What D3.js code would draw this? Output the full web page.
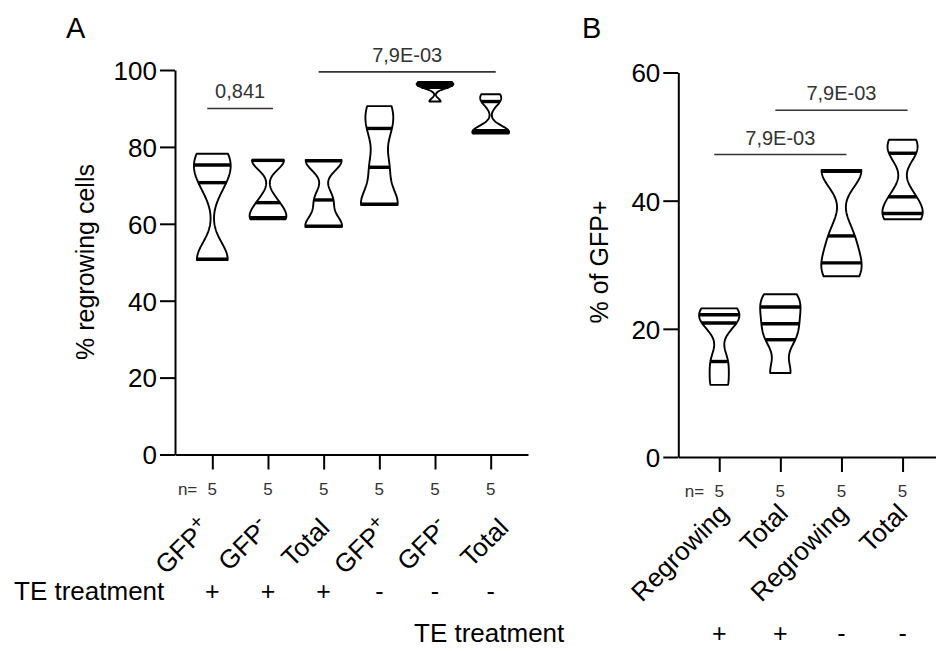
<!DOCTYPE html>
<html><head><meta charset="utf-8">
<script src="https://cdn.jsdelivr.net/npm/d3@7"></script>
<style>
body{margin:0;background:#fff}
svg{display:block}
text{font-family:"Liberation Sans",Arial,sans-serif}
</style>
</head><body>
<svg id="c" width="936" height="651"></svg>
<script>
// ---------- DATA ----------
// Panel A: % regrowing cells
const catsA = ["GFP+", "GFP-", "Total", "GFP+", "GFP-", "Total"];
const teA = ["+", "+", "+", "-", "-", "-"];
const nA = [5, 5, 5, 5, 5, 5];
const aGfpPosTE  = [50.6, 50.8, 70.7, 75.3, 78.2];
const aGfpNegTE  = [61.2, 61.6, 65.5, 76.5, 76.6];
const aTotalTE   = [59.2, 59.4, 66.2, 76.4, 76.6];
const aGfpPosCtl = [64.9, 65.1, 74.7, 84.8, 90.6];
const aGfpNegCtl = [91.8, 95.5, 96.1, 96.6, 96.9];
const aTotalCtl  = [83.5, 83.8, 84.2, 91.8, 93.7];
const yTicksA = [0, 20, 40, 60, 80, 100];
const sigLabelsA = ["0,841", "7,9E-03"];
const sigPairsA = [[0, 1], [2, 5]];
const sigLevelsA = [90, 99.5];

// Panel B: % of GFP+
const catsB = ["Regrowing", "Total", "Regrowing", "Total"];
const teB = ["+", "+", "-", "-"];
const nB = [5, 5, 5, 5];
const bRegrowTE  = [11.25, 14.9, 20.9, 22.2, 23.2];
const bTotalTE   = [13.1, 18.3, 20.8, 23.4, 25.4];
const bRegrowCtl = [28.2, 30.3, 34.5, 44.6, 44.8];
const bTotalCtl  = [37.1, 38.0, 40.6, 47.4, 49.5];
const yTicksB = [0, 20, 40, 60];
const sigLabelsB = ["7,9E-03", "7,9E-03"];
const sigPairsB = [[0, 2], [1, 3]];
const sigLevelsB = [47.2, 54.1];

// ---------- DRAW ----------
const svg = d3.select("#c");

function kde(vals, bw) {
  return y => d3.sum(vals, v => Math.exp(-0.5 * ((y - v) / bw) ** 2));
}

function drawPanel(p) {
  const g = svg.append("g");
  const idx = d3.range(p.cats.length);
  const y = d3.scaleLinear().domain(p.yDomain).range(p.yRange);
  const x = d3.scalePoint().domain(idx).range(p.xRange).padding(0.67);
  const lx = d3.scalePoint().domain(idx).range(p.labRange);
  const axisY = p.yRange[0];

  // y axis
  const ya = g.append("g").attr("transform", `translate(${p.xRange[0]},0)`)
    .call(d3.axisLeft(y).tickValues(p.yTicks).tickSize(15).tickSizeOuter(0).tickPadding(3));
  ya.selectAll("path,line").attr("stroke", "#000").attr("stroke-width", 2);
  ya.selectAll("text").attr("font-size", 26).attr("fill", "#000")
    .attr("font-family", "Liberation Sans, Arial, sans-serif").attr("dy", "0.36em");

  // x axis
  const xa = g.append("g").attr("transform", `translate(0,${axisY})`)
    .call(d3.axisBottom(x).tickSize(15).tickSizeOuter(0).tickFormat(""));
  xa.selectAll("path,line").attr("stroke", "#000").attr("stroke-width", 2);

  // y title
  g.append("text")
    .attr("transform", `translate(${p.titleX},${p.titleY}) rotate(-90)`)
    .attr("text-anchor", "middle").attr("font-size", 25).text(p.yTitle);

  // panel letter
  g.append("text").attr("x", p.letterX).attr("y", 38).attr("font-size", 29).text(p.letter);

  // violins
  const halfW = x.step() * 0.33;
  p.series.forEach((vals, i) => {
    const sorted = vals.slice().sort(d3.ascending);
    const lo = sorted[0], hi = sorted[sorted.length - 1];
    const bw = (hi - lo) * 0.16;
    const f = kde(sorted, bw);
    const ys = d3.range(0, 81).map(k => lo + (hi - lo) * k / 80);
    const maxD = d3.max(ys, f);
    const w = v => halfW * f(v) / maxD;
    const cx = x(i);
    const area = d3.area()
      .x0(v => cx - w(v)).x1(v => cx + w(v)).y(v => y(v))
      .curve(d3.curveLinear);
    g.append("path").attr("d", area(ys)).attr("fill", "#fff")
      .attr("stroke", "#000").attr("stroke-width", 1.9).attr("stroke-linejoin", "round");
    [0.25, 0.5, 0.75].forEach(q => {
      const qv = d3.quantile(sorted, q);
      g.append("line").attr("x1", cx - w(qv)).attr("x2", cx + w(qv))
        .attr("y1", y(qv)).attr("y2", y(qv))
        .attr("stroke", "#000").attr("stroke-width", 3.4);
    });
  });

  // significance bars
  p.sigPairs.forEach((pr, k) => {
    const x1 = x(pr[0]) - 5, x2 = x(pr[1]) + 5, yy = y(p.sigLevels[k]);
    g.append("line").attr("x1", x1).attr("x2", x2).attr("y1", yy).attr("y2", yy)
      .attr("stroke", "#333").attr("stroke-width", 1.6);
    g.append("text").attr("x", (x1 + x2) / 2).attr("y", yy - 10)
      .attr("text-anchor", "middle").attr("font-size", 20).attr("fill", "#333")
      .text(p.sigLabels[k]);
  });

  // n= row
  g.append("text").attr("x", x(0) - 15).attr("y", axisY + 40)
    .attr("text-anchor", "end").attr("font-size", 17).attr("fill", "#333")
    .attr("font-family", "DejaVu Sans, sans-serif").text("n=");
  p.n.forEach((nv, i) => {
    g.append("text").attr("x", x(i)).attr("y", axisY + 40)
      .attr("text-anchor", "middle").attr("font-size", 17).attr("fill", "#333")
      .attr("font-family", "DejaVu Sans, sans-serif").text(nv);
  });

  // category labels
  p.cats.forEach((c, i) => {
    const t = g.append("text")
      .attr("transform", `translate(${lx(i)},${axisY + p.labDy}) rotate(-45)`)
      .attr("text-anchor", "end").attr("font-size", 26);
    const m = c.match(/^(GFP)([+-])$/);
    if (m) {
      t.append("tspan").text(m[1]);
      t.append("tspan").attr("dy", -10).attr("font-size", 20).text(m[2]);
    } else t.text(c);
  });

  // TE treatment row
  g.append("text").attr("x", p.teX).attr("y", p.teY).attr("font-size", 26).text("TE treatment");
  p.te.forEach((s, i) => {
    g.append("text").attr("x", x(i)).attr("y", p.teY).attr("text-anchor", "middle")
      .attr("font-size", 25).text(s);
  });
}

drawPanel({
  cats: catsA, te: teA, n: nA,
  series: [aGfpPosTE, aGfpNegTE, aTotalTE, aGfpPosCtl, aGfpNegCtl, aTotalCtl],
  yDomain: [0, 100], yRange: [454.5, 70], xRange: [175, 528], yTicks: yTicksA,
  yTitle: "% regrowing cells", titleX: 94, titleY: 262, letter: "A", letterX: 66,
  sigPairs: sigPairsA, sigLabels: sigLabelsA, sigLevels: sigLevelsA,
  labRange: [212, 510], labDy: 75, teX: 14, teY: 600
});
drawPanel({
  cats: catsB, te: teB, n: nB,
  series: [bRegrowTE, bTotalTE, bRegrowCtl, bTotalCtl],
  yDomain: [0, 60], yRange: [457, 72.5], xRange: [678.3, 943.5], yTicks: yTicksB,
  yTitle: "% of GFP+", titleX: 608, titleY: 262, letter: "B", letterX: 582,
  sigPairs: sigPairsB, sigLabels: sigLabelsB, sigLevels: sigLevelsB,
  labRange: [730, 909], labDy: 58, teX: 414, teY: 642
});
</script>
</body></html>
